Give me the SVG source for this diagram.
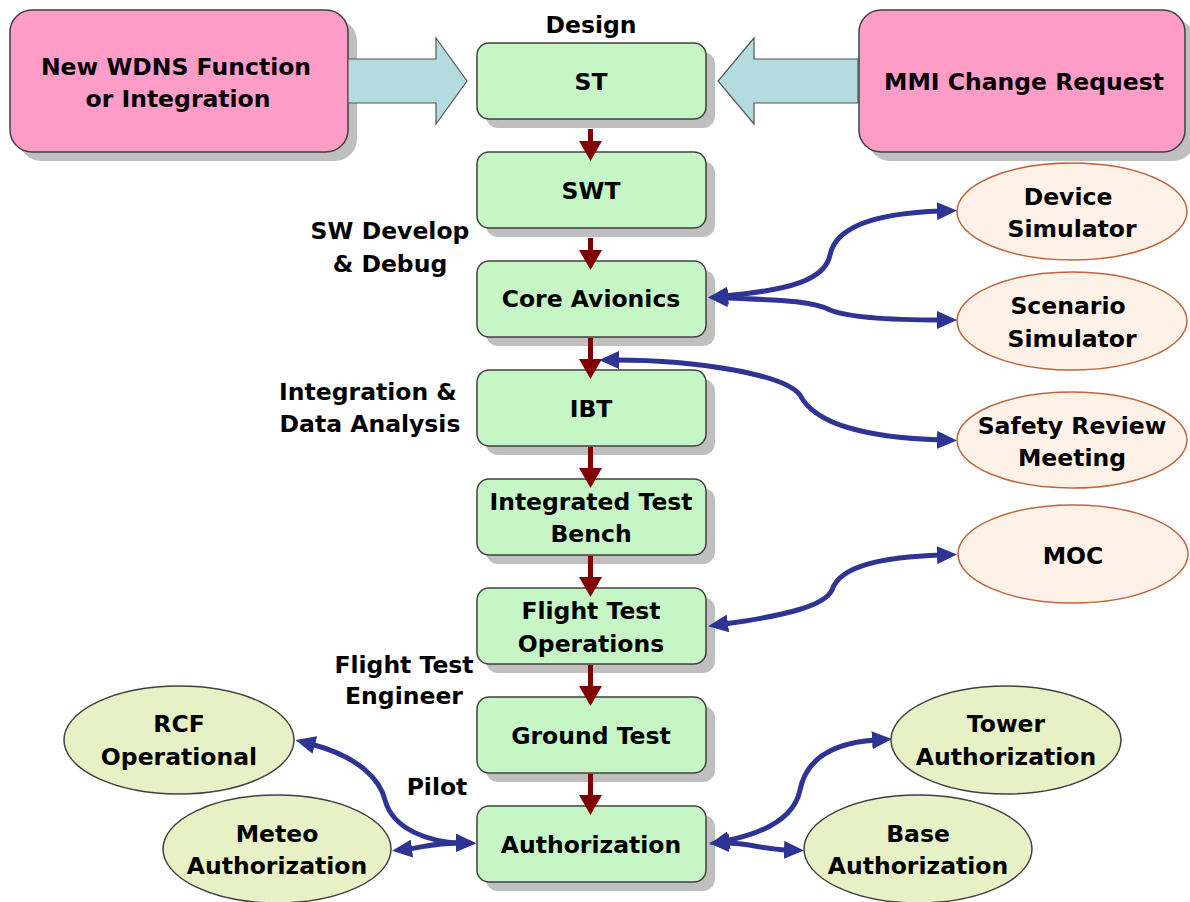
<svg xmlns="http://www.w3.org/2000/svg" width="1190" height="902" viewBox="0 0 1190 902">
<defs>
<style>
text{font-family:"DejaVu Sans","Verdana",sans-serif;font-weight:bold;font-size:23.5px;fill:#000;text-anchor:middle}
.shadow{fill:#bfbfbf}
.box{fill:#c6f6c6;stroke:#404040;stroke-width:1.5}
.pink{fill:#ff9cc8;stroke:#404040;stroke-width:1.5}
.peach{fill:#fef1e8;stroke:#c0643c;stroke-width:1.5}
.olive{fill:#e8f0c6;stroke:#404040;stroke-width:1.5}
.block{fill:#b4dce0;stroke:#555;stroke-width:1.2}
.blue{fill:none;stroke:#2e3494;stroke-width:5;marker-end:url(#bh);marker-start:url(#bh)}
.red{fill:#800000}
</style>
<marker id="bh" markerUnits="userSpaceOnUse" viewBox="0 0 20 18" markerWidth="20" markerHeight="18" refX="4" refY="9" orient="auto-start-reverse">
<path d="M0,0 L20,9 L0,18 z" fill="#2e3494"/>
</marker>
</defs>

<g id="new-wdns">
<rect class="shadow" x="19" y="19" width="338" height="142" rx="22"/>
<rect class="pink" x="10" y="10" width="338" height="142" rx="22"/>
<text x="176" y="75">New WDNS Function</text>
<text x="178" y="107">or Integration</text>
</g>
<g id="mmi">
<rect class="shadow" x="868" y="19" width="327" height="142" rx="22"/>
<rect class="pink" x="859" y="10" width="326" height="142" rx="22"/>
<text x="1024" y="90">MMI Change Request</text>
</g>

<g id="block-arrows">
<polygon class="block" points="348,59 436,59 436,38 467,81 436,124 436,103 348,103"/>
<polygon class="block" points="858,59 754,59 754,38 718,81 754,124 754,103 858,103"/>
</g>

<text x="591" y="33">Design</text>
<text x="390" y="239">SW Develop</text>
<text x="390" y="272">&amp; Debug</text>
<text x="368" y="400">Integration &amp;</text>
<text x="370" y="432">Data Analysis</text>
<text x="404" y="673">Flight Test</text>
<text x="404" y="704">Engineer</text>
<text x="437" y="795">Pilot</text>

<g id="st"><rect class="shadow" x="486" y="52" width="229" height="76" rx="12"/><rect class="box" x="477" y="43" width="229" height="76" rx="12"/><text x="591" y="90">ST</text></g>
<g id="swt"><rect class="shadow" x="486" y="161" width="229" height="76" rx="12"/><rect class="box" x="477" y="152" width="229" height="76" rx="12"/><text x="591" y="199">SWT</text></g>
<g id="core"><rect class="shadow" x="486" y="270" width="229" height="76" rx="12"/><rect class="box" x="477" y="261" width="229" height="76" rx="12"/><text x="591" y="307">Core Avionics</text></g>
<g id="ibt"><rect class="shadow" x="486" y="379" width="229" height="76" rx="12"/><rect class="box" x="477" y="370" width="229" height="76" rx="12"/><text x="591" y="417">IBT</text></g>
<g id="itb"><rect class="shadow" x="486" y="488" width="229" height="76" rx="12"/><rect class="box" x="477" y="479" width="229" height="76" rx="12"/><text x="591" y="510">Integrated Test</text><text x="591" y="542">Bench</text></g>
<g id="fto"><rect class="shadow" x="486" y="597" width="229" height="76" rx="12"/><rect class="box" x="477" y="588" width="229" height="76" rx="12"/><text x="591" y="619">Flight Test</text><text x="591" y="652">Operations</text></g>
<g id="ground"><rect class="shadow" x="486" y="706" width="229" height="76" rx="12"/><rect class="box" x="477" y="697" width="229" height="76" rx="12"/><text x="591" y="744">Ground Test</text></g>
<g id="auth"><rect class="shadow" x="486" y="815" width="229" height="76" rx="12"/><rect class="box" x="477" y="806" width="229" height="76" rx="12"/><text x="591" y="853">Authorization</text></g>

<g id="device"><ellipse class="peach" cx="1072" cy="211.5" rx="115" ry="48.5"/><text x="1068" y="205">Device</text><text x="1072" y="237">Simulator</text></g>
<g id="scenario"><ellipse class="peach" cx="1072" cy="321" rx="115" ry="49"/><text x="1068" y="314">Scenario</text><text x="1072" y="347">Simulator</text></g>
<g id="safety"><ellipse class="peach" cx="1072" cy="440" rx="115" ry="48"/><text x="1072" y="434">Safety Review</text><text x="1072" y="466">Meeting</text></g>
<g id="moc"><ellipse class="peach" cx="1073" cy="554" rx="115" ry="49"/><text x="1073" y="564">MOC</text></g>

<g id="rcf"><ellipse class="olive" cx="179" cy="740" rx="115" ry="54"/><text x="179" y="732">RCF</text><text x="179" y="765">Operational</text></g>
<g id="meteo"><ellipse class="olive" cx="277" cy="849" rx="114" ry="54"/><text x="277" y="842">Meteo</text><text x="277" y="874">Authorization</text></g>
<g id="tower"><ellipse class="olive" cx="1006" cy="740" rx="115" ry="54"/><text x="1006" y="732">Tower</text><text x="1006" y="765">Authorization</text></g>
<g id="base"><ellipse class="olive" cx="918" cy="849" rx="114" ry="54"/><text x="918" y="842">Base</text><text x="918" y="874">Authorization</text></g>

<g id="connectors">
<g id="flow">
<rect class="red" x="588" y="129" width="5" height="14"/><polygon class="red" points="579,141 602,141 590.5,161"/>
<rect class="red" x="588" y="238" width="5" height="14"/><polygon class="red" points="579,250 602,250 590.5,270"/>
<rect class="red" x="588" y="338" width="5" height="23"/><polygon class="red" points="579,359 602,359 590.5,379"/>
<rect class="red" x="588" y="447" width="5" height="23"/><polygon class="red" points="579,468 602,468 590.5,488"/>
<rect class="red" x="588" y="556" width="5" height="23"/><polygon class="red" points="579,577 602,577 590.5,597"/>
<rect class="red" x="588" y="665" width="5" height="23"/><polygon class="red" points="579,686 602,686 590.5,706"/>
<rect class="red" x="588" y="774" width="5" height="23"/><polygon class="red" points="579,795 602,795 590.5,815"/>
</g>
<path class="blue" d="M724,296 C790,290 825,280 830,255 C836,225 880,213 941,211"/>
<path class="blue" d="M724,298 C790,300 815,302 830,310 C850,318 890,320 941,320"/>
<path class="blue" d="M615,360 C700,360 785,375 800,395 C815,425 870,438 941,440"/>
<path class="blue" d="M724,624 C790,615 825,605 832,590 C840,565 885,557 941,555"/>
<path class="blue" d="M311,744 C360,757 380,780 385,800 C393,830 430,842 460,843"/>
<path class="blue" d="M408,849 C425,847 432,843 460,843"/>
<path class="blue" d="M725,841 C770,832 795,815 800,790 C806,760 830,743 876,740"/>
<path class="blue" d="M725,843 C750,843 760,849 788,850"/>
</g>
</svg>
